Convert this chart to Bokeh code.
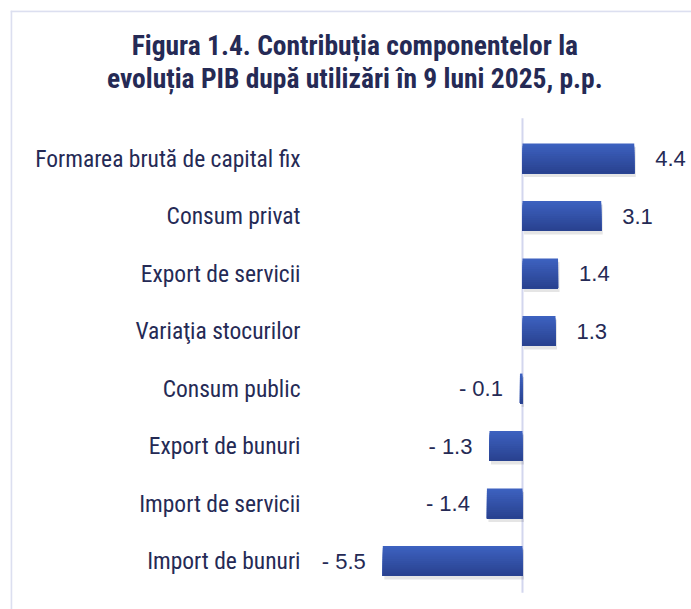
from bokeh.plotting import figure
from bokeh.models import Range1d, Span
from bokeh.core.properties import value
from bokeh.embed import file_html
from bokeh.resources import INLINE

categories = ["Formarea brută de capital fix", "Consum privat", "Export de servicii",
              "Variaţia stocurilor", "Consum public", "Export de bunuri",
              "Import de servicii", "Import de bunuri"]
values = [4.4, 3.1, 1.4, 1.3, -0.1, -1.3, -1.4, -5.5]
title_lines = ["Figura 1.4. Contribuția componentelor la",
               "evoluția PIB după utilizări în 9 luni 2025, p.p."]

NARROW = "Liberation Sans Narrow, Arial Narrow, Roboto Condensed, sans-serif"
NAVY = "#252a55"

W, H = 691, 609
X0, X1 = -20.157, 6.654
Y_BOT, Y_TOP = 7.843, -2.574
p = figure(width=W, height=H, output_backend="svg", toolbar_location=None,
           x_range=Range1d(X0, X1), y_range=Range1d(Y_BOT, Y_TOP),
           min_border_left=10, min_border_top=10, min_border_right=0, min_border_bottom=0)
p.axis.visible = False
p.grid.visible = False
p.outline_line_color = None
p.background_fill_color = "white"
p.border_fill_color = "white"

# frame border (top & left)
p.add_layout(Span(location=X0 + 0.03, dimension="height", line_color="#dcdff0", line_width=2))
p.add_layout(Span(location=Y_TOP + 0.015, dimension="width", line_color="#dcdff0", line_width=2))

idx = list(range(len(categories)))
bar_h = 0.52

# zero line
p.segment(x0=[0], y0=[-0.7], x1=[0], y1=[7.55], line_color="#d3d6ee", line_width=2)

# shadow
p.hbar(y=[i + 0.06 for i in idx], left=[min(0, v) + 0.06 for v in values],
       right=[max(0, v) + 0.06 if v > 0 else 0.06 for v in values], height=bar_h,
       fill_color="#000000", fill_alpha=0.10, line_color=None)

# gradient bars: overlapping layers anchored to bar bottom
n = 14
top = (0x3d, 0x61, 0xbf)
bot = (0x29, 0x42, 0x90)
for k in range(n):
    t = k / (n - 1)
    c = "#%02x%02x%02x" % tuple(int(round(a + (b - a) * t)) for a, b in zip(top, bot))
    frac = 1 - k / n
    hh = bar_h * frac
    ys = [i + bar_h / 2 - hh / 2 for i in idx]
    p.hbar(y=ys, left=[0] * len(values), right=values, height=hh,
           fill_color=c, line_color=None)

# category labels
p.text(x=[-8.74] * len(idx), y=idx, text=categories, text_align="right",
       text_baseline="middle", text_color=NAVY, text_font=value(NARROW),
       text_font_size="23.5px")

# value labels
pos = [(i, v) for i, v in zip(idx, values) if v >= 0]
neg = [(i, v) for i, v in zip(idx, values) if v < 0]
p.text(x=[v for _, v in pos], y=[i for i, _ in pos], text=["%.1f" % v for _, v in pos],
       x_offset=21, text_align="left", text_baseline="middle", text_color=NAVY,
       text_font=value("Liberation Sans"), text_font_size="22px")
p.text(x=[v for _, v in neg], y=[i for i, _ in neg], text=["- %.1f" % abs(v) for _, v in neg],
       x_offset=-17, text_align="right", text_baseline="middle", text_color=NAVY,
       text_font=value("Liberation Sans"), text_font_size="22px")

# title
p.text(x=[-6.6, -6.6], y=[-1.965, -1.391], text=title_lines, text_align="center",
       text_baseline="middle", text_color=NAVY, text_font=value(NARROW),
       text_font_style="bold", text_font_size="27.5px")

open("out.html", "w").write(file_html(p, INLINE))
